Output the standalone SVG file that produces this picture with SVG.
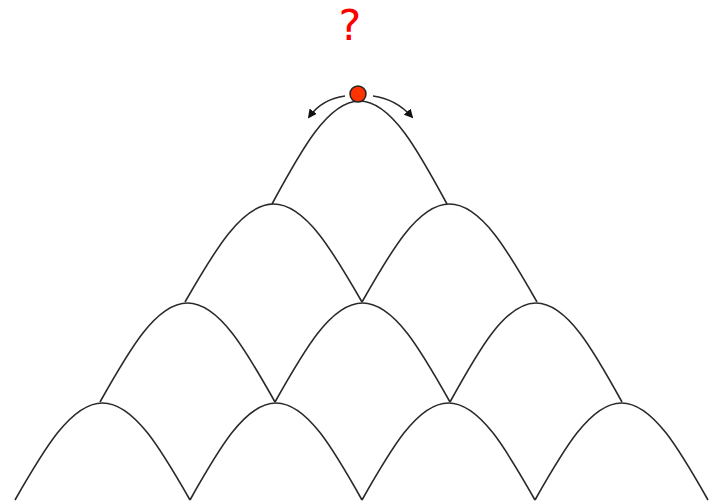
<svg xmlns="http://www.w3.org/2000/svg" width="716" height="502" viewBox="0 0 716 502">
  <style>
    .arch { fill: none; stroke: #2a2a2a; stroke-width: 1.6; stroke-linejoin: round; }
    .arrow { fill: none; stroke: #2a2a2a; stroke-width: 1.6; }
    .q { font-family: "DejaVu Sans", sans-serif; font-size: 43px; fill: #ff0000; text-anchor: middle; }
  </style>
  <defs>
    <marker id="ah" viewBox="0 0 10 10" refX="8" refY="5" markerWidth="9" markerHeight="9" orient="auto" markerUnits="userSpaceOnUse">
      <path d="M0,0 L10,5 L0,10 z" fill="#111"/>
    </marker>
  </defs>
  <rect width="716" height="502" fill="#ffffff"/>

  <g id="question"><text class="q" x="350" y="40">?</text></g>

  <g id="arch-r1">
    <path class="arch" d="M272,204 C300.5,151.2 327.8,101 359.5,101 C391.2,101 418.5,151.2 447,204"/>
  </g>
  <g id="arch-r2a">
    <path class="arch" d="M185,302 C213.9,251.8 241.5,204 273.5,204 C305.5,204 333.1,251.8 362,302"/>
  </g>
  <g id="arch-r2b">
    <path class="arch" d="M362,302 C390.5,251.8 417.8,204 449.5,204 C481.2,204 508.5,251.8 537,302"/>
  </g>
  <g id="arch-r3a">
    <path class="arch" d="M100,402 C128.5,351.3 155.8,303 187.5,303 C219.2,303 246.5,351.3 275,402"/>
  </g>
  <g id="arch-r3b">
    <path class="arch" d="M275,402 C303.5,351.3 330.8,303 362.5,303 C394.2,303 421.5,351.3 450,402"/>
  </g>
  <g id="arch-r3c">
    <path class="arch" d="M450,402 C478,351.3 504.9,303 536,303 C567.1,303 594,351.3 622,402"/>
  </g>
  <g id="arch-r4a">
    <path class="arch" d="M15,500 C43.5,450.3 70.8,403 102.5,403 C134.2,403 161.5,450.3 190,500"/>
  </g>
  <g id="arch-r4b">
    <path class="arch" d="M190,500 C218,450.3 244.9,403 276,403 C307.1,403 334,450.3 362,500"/>
  </g>
  <g id="arch-r4c">
    <path class="arch" d="M362,500 C390.2,450.3 417.2,403 448.5,403 C479.8,403 506.8,450.3 535,500"/>
  </g>
  <g id="arch-r4d">
    <path class="arch" d="M535,500 C563.2,450.3 590.2,403 621.5,403 C652.8,403 679.8,450.3 708,500"/>
  </g>

  <g id="connectors">
    <path class="arrow" d="M345,96 Q322,99 309,117" marker-end="url(#ah)"/>
    <path class="arrow" d="M373,96 Q396,99 412,117" marker-end="url(#ah)"/>
  </g>

  <g id="ball">
    <circle cx="358" cy="94" r="8" fill="#ff3300" stroke="#222" stroke-width="1.5"/>
  </g>
</svg>
